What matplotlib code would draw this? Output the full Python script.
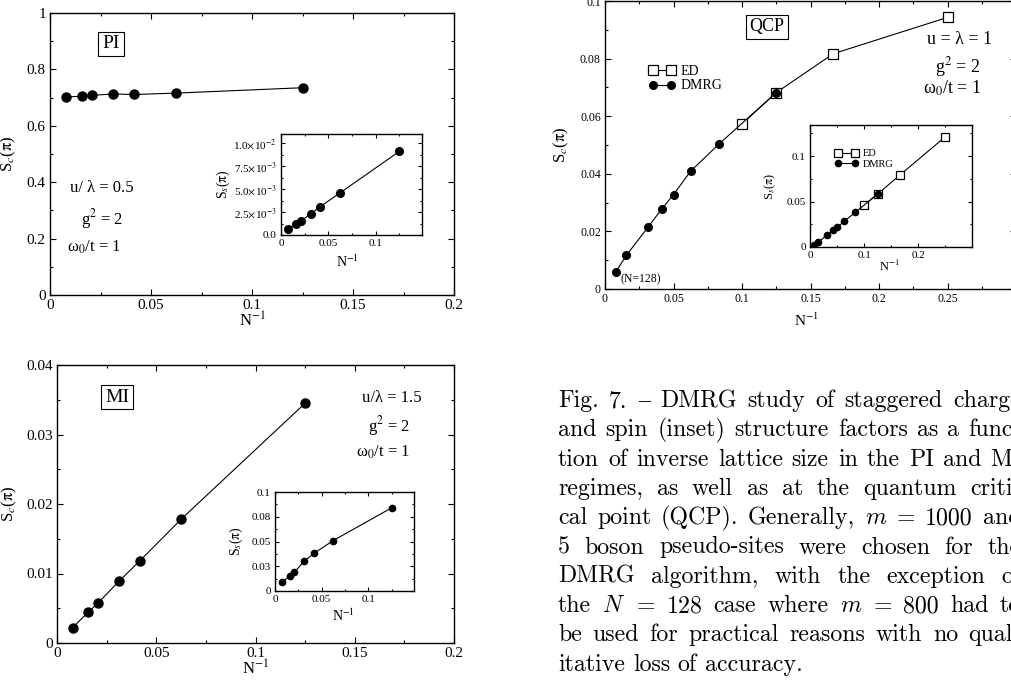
import matplotlib
matplotlib.use("Agg")
import matplotlib.pyplot as plt
from matplotlib.ticker import MultipleLocator, FuncFormatter, FixedLocator, FixedFormatter
from matplotlib.transforms import IdentityTransform

plt.rcParams["font.family"] = ["Liberation Serif", "DejaVu Serif"]
plt.rcParams["mathtext.fontset"] = "stix"

# ---- datos ----
inv_n = [1/128, 1/64, 1/48, 1/32, 1/24, 1/16, 1/8]
sc_pi = [0.702, 0.705, 0.708, 0.713, 0.711, 0.716, 0.735]
ss_pi = [0.0006, 0.0012, 0.0015, 0.0023, 0.0031, 0.0046, 0.0091]
sc_mi = [0.0022, 0.0044, 0.0058, 0.0089, 0.0118, 0.0178, 0.0345]
ss_mi = [0.009, 0.015, 0.019, 0.030, 0.038, 0.051, 0.084]

inv_n_dmrg = [1/128, 1/64, 1/32, 1/24, 1/20, 1/16, 1/12, 1/8]
sc_dmrg = [0.0059, 0.0117, 0.0214, 0.0279, 0.0328, 0.0409, 0.0504, 0.0682]
ss_dmrg = [0.0018, 0.0055, 0.0131, 0.0182, 0.0215, 0.0281, 0.038, 0.0584]
inv_n_ed = [1/10, 1/8, 1/6, 1/4]
sc_ed = [0.0573, 0.0682, 0.0817, 0.0943]
ss_ed = [0.0464, 0.0584, 0.0796, 0.1215]

pi_ss_ticks = [0, 0.0025, 0.005, 0.0075, 0.01]
pi_ss_labels = ["0.0", r"2.5$\times$10$^{-3}$", r"5.0$\times$10$^{-3}$",
                r"7.5$\times$10$^{-3}$", r"1.0$\times$10$^{-2}$"]
mi_ss_ticks = [0, 0.025, 0.05, 0.075, 0.1]
mi_ss_labels = ["0", "0.03", "0.05", "0.08", "0.1"]

caption = [
    "Fig. 7. – DMRG study of staggered charge",
    "and spin (inset) structure factors as a func-",
    "tion of inverse lattice size in the PI and MI",
    "regimes, as well as at the quantum criti-",
    "cal point (QCP). Generally, $m$ = 1000 and",
    "5 boson pseudo-sites were chosen for the",
    "DMRG algorithm, with the exception of",
    "the $N$ = 128 case where $m$ = 800 had to",
    "be used for practical reasons with no qual-",
    "itative loss of accuracy.",
]

W, H = 1011, 683
fig = plt.figure(figsize=(W / 100, H / 100), dpi=100)


def caja(l, t, r, b):
    return fig.add_axes([l / W, 1 - b / H, (r - l) / W, (b - t) / H])


def px(x, y):
    return x / W, 1 - y / H


def etiqueta(v, p):
    if abs(v - 0.3) < 1e-9:
        return ""
    return f"{v:g}"


fmt = FuncFormatter(etiqueta)
SC = r"S$_c$($\mathrm{\pi}$)"
SS = r"S$_s$($\mathrm{\pi}$)"
NX = "N$^{-1}$"


def estilo(ax, xmaj, ymaj, lsize, tlen):
    ax.xaxis.set_major_locator(MultipleLocator(xmaj))
    ax.xaxis.set_minor_locator(MultipleLocator(xmaj / 2))
    ax.yaxis.set_major_locator(MultipleLocator(ymaj))
    ax.yaxis.set_minor_locator(MultipleLocator(ymaj / 2))
    ax.xaxis.set_major_formatter(fmt)
    ax.yaxis.set_major_formatter(fmt)
    ax.tick_params(which="both", direction="in", top=True, right=True,
                   labelsize=lsize, width=0.8, pad=3)
    ax.tick_params(which="major", length=tlen)
    ax.tick_params(which="minor", length=tlen / 2)
    for s in ax.spines.values():
        s.set_linewidth(1.0)


lk = dict(color="black", linewidth=0.8)

# ---- PI ----
ax = caja(50, 13, 454, 295)
ax.plot(inv_n, sc_pi, marker="o", markersize=6.5, **lk)
ax.set_xlim(0, 0.2)
ax.set_ylim(0, 1)
estilo(ax, 0.05, 0.2, 11, 4)
ax.set_ylabel(SC, fontsize=12)
ax.yaxis.set_label_coords(-0.078, 0.5)
ax.set_xlabel(NX, fontsize=12)
ax.xaxis.set_label_coords(0.5, -0.06)

ins = caja(281, 134, 422, 235)
ins.plot(inv_n, ss_pi, marker="o", markersize=5.5, **lk)
ins.set_xlim(0, 0.149)
ins.set_ylim(0, 0.011)
estilo(ins, 0.05, 0.0025, 8, 3)
ins.yaxis.set_major_locator(FixedLocator(pi_ss_ticks))
ins.yaxis.set_major_formatter(FixedFormatter(pi_ss_labels))
ins.set_ylabel(SS, fontsize=10)
ins.yaxis.set_label_coords(-0.35, 0.5)
ins.set_xlabel(NX, fontsize=10)
ins.xaxis.set_label_coords(0.47, -0.18)

fig.text(*px(111, 44), "PI", fontsize=14, ha="center", va="center",
         bbox=dict(boxstyle="square,pad=0.2", fc="white", ec="black", lw=0.8))
fig.text(*px(102, 188), "u/ λ = 0.5", fontsize=12, ha="center", va="center")
fig.text(*px(102, 219), "g$^2$ = 2", fontsize=12, ha="center", va="center")
fig.text(*px(94, 247), "ω$_0$/t = 1", fontsize=12, ha="center", va="center")

# ---- MI ----
ax = caja(57, 365, 454, 643)
ax.plot(inv_n, sc_mi, marker="o", markersize=6.5, **lk)
ax.set_xlim(0, 0.2)
ax.set_ylim(0, 0.04)
estilo(ax, 0.05, 0.01, 11, 4)
ax.set_ylabel(SC, fontsize=12)
ax.yaxis.set_label_coords(-0.096, 0.5)
ax.set_xlabel(NX, fontsize=12)
ax.xaxis.set_label_coords(0.5, -0.061)

ins = caja(275, 492, 414, 591)
ins.plot(inv_n, ss_mi, marker="o", markersize=4.5, **lk)
ins.set_xlim(0, 0.149)
ins.set_ylim(0, 0.1)
estilo(ins, 0.05, 0.025, 8, 3)
ins.yaxis.set_major_locator(FixedLocator(mi_ss_ticks))
ins.yaxis.set_major_formatter(FixedFormatter(mi_ss_labels))
ins.set_ylabel(SS, fontsize=10)
ins.yaxis.set_label_coords(-0.216, 0.5)
ins.set_xlabel(NX, fontsize=10)
ins.xaxis.set_label_coords(0.49, -0.17)

fig.text(*px(117, 397), "MI", fontsize=14, ha="center", va="center",
         bbox=dict(boxstyle="square,pad=0.2", fc="white", ec="black", lw=0.8))
fig.text(*px(392, 398), "u/λ = 1.5", fontsize=12, ha="center", va="center")
fig.text(*px(389, 426), "g$^2$ = 2", fontsize=12, ha="center", va="center")
fig.text(*px(383, 452), "ω$_0$/t = 1", fontsize=12, ha="center", va="center")

# ---- QCP ----
ax = caja(605, 1, 1016, 289)
ax.plot(inv_n_ed, sc_ed, marker="s", markersize=7, markerfacecolor="white",
        markeredgewidth=0.9, label="ED", **lk)
ax.plot(inv_n_dmrg, sc_dmrg, marker="o", markersize=5.5, label="DMRG", **lk)
ax.set_xlim(0, 0.3)
ax.set_ylim(0, 0.1)
estilo(ax, 0.05, 0.02, 8.5, 4)
ax.set_ylabel(SC, fontsize=12)
ax.yaxis.set_label_coords(-0.083, 0.5)
ax.set_xlabel(NX, fontsize=11)
ax.xaxis.set_label_coords(0.49, -0.08)
ax.legend(loc="upper left", bbox_to_anchor=px(649, 65), bbox_transform=fig.transFigure,
          frameon=False, numpoints=2, fontsize=10, handlelength=1.9,
          handletextpad=0.36, labelspacing=0.1, borderpad=0, borderaxespad=0)

ins = caja(810, 125, 972, 247)
ins.plot(inv_n_ed, ss_ed, marker="s", markersize=6, markerfacecolor="white",
         markeredgewidth=0.9, label="ED", **lk)
ins.plot(inv_n_dmrg, ss_dmrg, marker="o", markersize=4.5, label="DMRG", **lk)
ins.set_xlim(0, 0.299)
ins.set_ylim(0, 0.1343)
estilo(ins, 0.1, 0.05, 8, 3)
ins.set_ylabel(SS, fontsize=9)
ins.yaxis.set_label_coords(-0.2, 0.5)
ins.set_xlabel(NX, fontsize=9)
ins.xaxis.set_label_coords(0.49, -0.1)
ins.legend(loc="upper left", bbox_to_anchor=px(835, 149), bbox_transform=fig.transFigure,
           frameon=False, numpoints=2, fontsize=7.5, handlelength=2.2,
           handletextpad=0.48, labelspacing=0.1, borderpad=0, borderaxespad=0)

fig.text(*px(767, 27), "QCP", fontsize=13, ha="center", va="center",
         bbox=dict(boxstyle="square,pad=0.2", fc="white", ec="black", lw=0.8))
fig.text(*px(960, 39), "u = λ = 1", fontsize=13, ha="center", va="center")
fig.text(*px(958, 67), "g$^2$ = 2", fontsize=13, ha="center", va="center")
fig.text(*px(952, 88), "ω$_0$/t = 1", fontsize=13, ha="center", va="center")
fig.text(*px(641, 279), "(N=128)", fontsize=8.5, ha="center", va="center")

# ---- pie de figura, justificado ----
renderer = fig.canvas.get_renderer()
x0, x1 = 558, 1021
y0, dy = 407, 29.3
for i, linea in enumerate(caption):
    palabras = linea.split(" ")
    textos = []
    for w in palabras:
        fam = ["Liberation Serif"] if w == "–" else ["cmr10", "DejaVu Serif"]
        t = fig.text(0, 0, w, fontsize=17.2, family=fam, math_fontfamily="cm",
                     transform=IdentityTransform(), va="baseline", ha="left")
        textos.append(t)
    anchos = [t.get_window_extent(renderer).width for t in textos]
    if i < len(caption) - 1:
        hueco = (x1 - x0 - sum(anchos)) / (len(textos) - 1)
    else:
        hueco = 7.8
    x = x0
    for t, a in zip(textos, anchos):
        t.set_position((x, H - (y0 + dy * i)))
        x += a + hueco

fig.savefig("out.png", dpi=100)
